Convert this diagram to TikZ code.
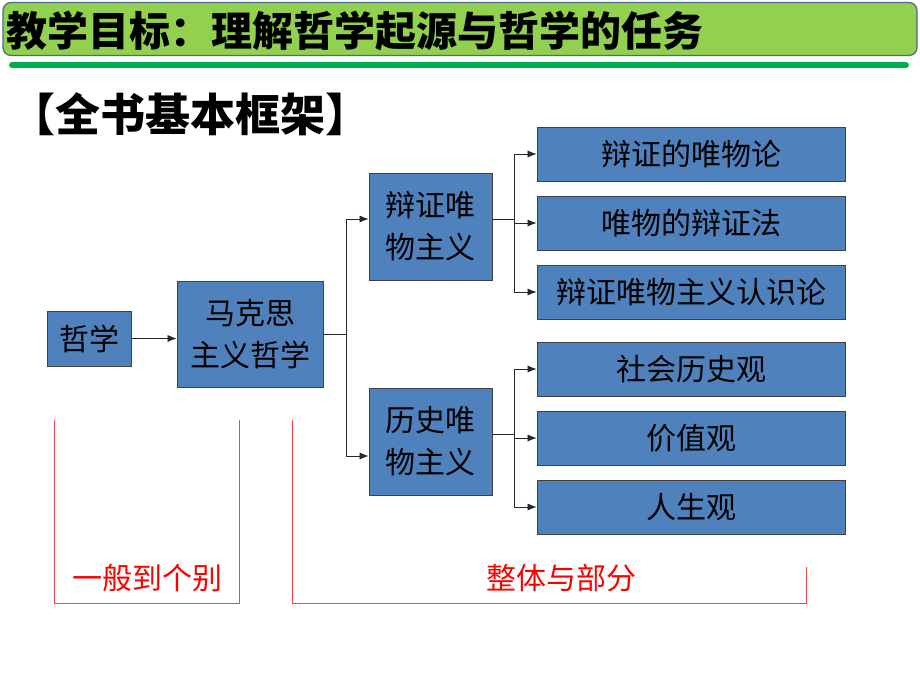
\documentclass[tikz,border=0pt]{standalone}
\usepackage{fontspec}
\setmainfont{Noto Sans CJK SC}
\usetikzlibrary{arrows.meta,positioning}
\definecolor{BoxBlue}{HTML}{4F81BD}
\definecolor{BarGreen}{HTML}{92D050}
\definecolor{BarEdge}{HTML}{4A6A8A}
\definecolor{LineGreen}{HTML}{00B050}
\tikzset{
    block/.style = {draw=black!75, fill=BoxBlue, rectangle, line width=0.8pt,
        inner sep=0pt, align=center, font=\fontsize{30}{42}\selectfont},
    leaf/.style = {block, minimum width=308pt, minimum height=54pt},
    arrow/.style = {draw, black!85, line width=0.7pt, -{Latex[length=9pt,width=7pt]}},
    link/.style = {draw, black!85, line width=0.7pt},
    bracket/.style = {draw=red!75, line width=0.9pt},
    redtext/.style = {text=red, font=\fontsize{30}{36}\selectfont}
}

\begin{document}
\begin{tikzpicture}[x=1pt,y=-1pt]
  \useasboundingbox (0,0) rectangle (920,690);
  % title bar
  \node[draw=BarEdge, fill=BarGreen, line width=1.2pt, rounded corners=8pt,
        minimum width=914pt, minimum height=53pt] (bar) at (460,29) {};
  \node[anchor=west, inner sep=0pt, font=\fontsize{41}{44}\selectfont\bfseries] (title) at (6,31)
    {教学目标：理解哲学起源与哲学的任务};
  \draw[LineGreen, line width=6pt, line cap=round] (12,65) -- (906,65);
  \node[anchor=west, inner sep=0pt, font=\fontsize{45}{48}\selectfont\bfseries] (head) at (10,114)
    {【全书基本框架】};

  % boxes
  \node[block, minimum width=84pt, minimum height=55pt] (zx) at (89,338.5) {哲学};
  \node[block, minimum width=146pt, minimum height=106pt] (mks) at (250,334) {马克思\\主义哲学};
  \node[block, minimum width=123pt, minimum height=107pt] (bz) at (430.5,226.5) {辩证唯\\物主义};
  \node[block, minimum width=123pt, minimum height=107pt] (ls) at (430.5,441.5) {历史唯\\物主义};
  \node[leaf] (r1) at (691,154) {辩证的唯物论};
  \node[leaf] (r2) at (691,223) {唯物的辩证法};
  \node[leaf] (r3) at (691,292) {辩证唯物主义认识论};
  \node[leaf] (r4) at (691,369) {社会历史观};
  \node[leaf] (r5) at (691,438) {价值观};
  \node[leaf] (r6) at (691,507) {人生观};

  % connectors
  \draw[arrow] (zx.east) -- (zx.east -| mks.west);
  \coordinate (j1) at (346,334);
  \coordinate (j2) at (514,219);
  \coordinate (j3) at (514,434);
  \draw[link] (mks.east) -- (j1);
  \draw[arrow] (j1) |- ([yshift=7.5pt]bz.west);
  \draw[arrow] (j1) |- ([yshift=-14.5pt]ls.west);
  \draw[link] ([yshift=7.5pt]bz.east) -- (j2);
  \draw[link] ([yshift=7.5pt]ls.east) -- (j3);
  \foreach \n in {r1,r2,r3}
    \draw[arrow] (j2) |- (\n.west);
  \foreach \n in {r4,r5,r6}
    \draw[arrow] (j3) |- (\n.west);

  % red brackets
  \draw[bracket] (54,420) -- (54,603) -- (239,603) -- (239,420);
  \draw[bracket] (292,420) -- (292,603) -- (806,603) -- (806,567);
  \node[redtext] (general) at (147,578) {一般到个别};
  \node[redtext] (whole) at (561,578) {整体与部分};
\end{tikzpicture}
\end{document}
